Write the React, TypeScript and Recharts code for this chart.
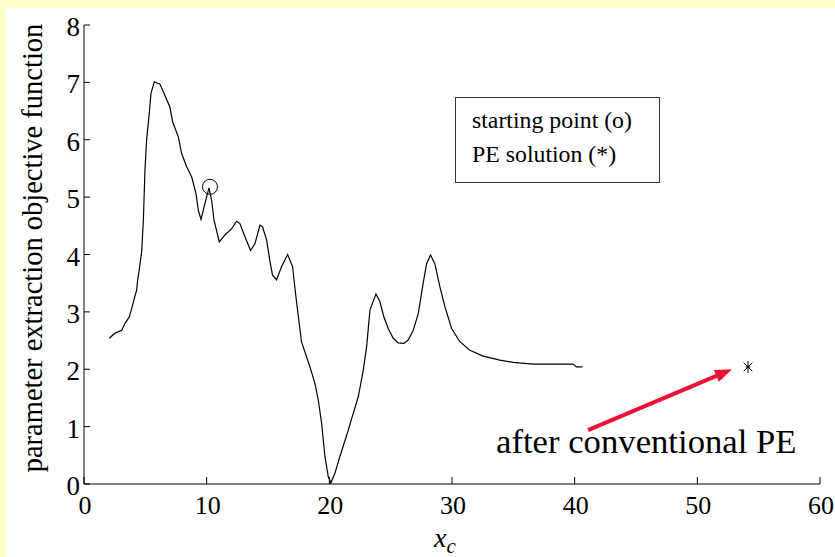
import React from 'react';
import { ComposedChart, Line, Scatter, XAxis, YAxis, ReferenceLine } from 'recharts';

// Objective function sampled along x_c
const curveX = [
  2.06, 2.53, 3.07, 3.34, 3.69, 3.89, 4.07, 4.29, 4.37, 4.5, 4.7, 4.84, 4.97, 5.1, 5.32, 5.46,
  5.73, 6.19, 6.52, 7.0, 7.23, 7.69, 7.96, 8.37, 8.78, 9.13, 9.32, 9.54, 9.86, 10.19, 10.4, 10.6,
  11.03, 11.49, 12.04, 12.44, 12.71, 13.12, 13.58, 13.94, 14.34, 14.56, 14.89, 15.16, 15.37, 15.7,
  16.11, 16.6, 17.0, 17.3, 17.73, 18.42, 18.83, 19.1, 19.37, 19.64, 19.91, 20.13, 20.46, 20.86,
  21.46, 21.95, 22.36, 22.77, 23.04, 23.31, 23.8, 24.12, 24.45, 24.8, 25.21, 25.62, 26.08, 26.43,
  26.84, 27.25, 27.65, 27.93, 28.25, 28.6, 29.01, 29.42, 29.97, 30.64, 31.46, 32.54, 33.9, 34.99,
  36.62, 39.88, 40.15, 40.64,
];
const curveY = [
  2.54, 2.63, 2.68, 2.8, 2.91, 3.06, 3.21, 3.38, 3.55, 3.73, 4.05, 4.6, 5.47, 5.99, 6.46, 6.81,
  7.01, 6.97, 6.81, 6.57, 6.31, 6.05, 5.76, 5.53, 5.35, 5.06, 4.77, 4.61, 4.89, 5.16, 4.95, 4.6,
  4.22, 4.34, 4.45, 4.58, 4.54, 4.31, 4.07, 4.19, 4.51, 4.48, 4.25, 3.88, 3.64, 3.56,
  3.79, 4.0, 3.79, 3.22, 2.48, 2.04, 1.75, 1.46, 1.06, 0.48, 0.13, 0.02, 0.19, 0.48,
  0.88, 1.23, 1.52, 1.99, 2.39, 3.03, 3.31, 3.18, 2.91, 2.71, 2.54, 2.46, 2.45, 2.51,
  2.68, 2.97, 3.5, 3.84, 3.99, 3.84, 3.44, 3.09, 2.71, 2.48, 2.33, 2.23, 2.16, 2.12,
  2.09, 2.09, 2.04, 2.04,
];

const startPoint = [{ x: 10.27, y: 5.18 }];
const peSolution = [{ x: 54.13, y: 2.04 }];
const arrowFrom = { x: 41.09, y: 0.94 };
const arrowTo = { x: 52.83, y: 2.0 };

const xTicks = [0, 10, 20, 30, 40, 50, 60];
const yTicks = [0, 1, 2, 3, 4, 5, 6, 7, 8];

const legendLines = ['starting point (o)', 'PE solution (*)'];
const annotationText = 'after conventional PE';
const yLabel = 'parameter extraction objective function';

const curveData = curveX.map((x, i) => ({ x, y: curveY[i] }));

const FONT = '"Liberation Serif", "Times New Roman", serif';
const W = 835;
const H = 557;

const YTick = (props: any) => {
  const { x, y, payload } = props;
  return (
    <g>
      <line x1={x} y1={y} x2={x + 6} y2={y} stroke="#000" strokeWidth={1} />
      <text x={x - 4} y={y + 11} textAnchor="end" fontSize={27} fontFamily={FONT} fill="#000">
        {payload.value}
      </text>
    </g>
  );
};

const XTick = (props: any) => {
  const { x, y, payload } = props;
  return (
    <g>
      <line x1={x} y1={y} x2={x} y2={y - 7} stroke="#000" strokeWidth={1} />
      <text x={x + 1} y={y + 30} textAnchor="middle" fontSize={26} fontFamily={FONT} fill="#000">
        {payload.value}
      </text>
    </g>
  );
};

const CircleMarker = (props: any) => {
  const { cx, cy } = props;
  return <circle cx={cx} cy={cy} r={7.5} fill="none" stroke="#000" strokeWidth={1} />;
};

const StarMarker = (props: any) => {
  const { cx, cy } = props;
  const s = 6;
  const d = s * 0.72;
  return (
    <g stroke="#000" strokeWidth={1}>
      <line x1={cx} y1={cy - s} x2={cx} y2={cy + s} />
      <line x1={cx - d} y1={cy - d} x2={cx + d} y2={cy + d} />
      <line x1={cx - d} y1={cy + d} x2={cx + d} y2={cy - d} />
      <line x1={cx - s * 0.4} y1={cy} x2={cx + s * 0.4} y2={cy} />
    </g>
  );
};

const ArrowShape = (props: any) => {
  const { x1, y1, x2, y2 } = props;
  const dx = x2 - x1;
  const dy = y2 - y1;
  const len = Math.sqrt(dx * dx + dy * dy);
  const ux = dx / len;
  const uy = dy / len;
  const head = 17;
  const half = 6.5;
  const bx = x2 - ux * head;
  const by = y2 - uy * head;
  const px = -uy;
  const py = ux;
  return (
    <g>
      <line x1={x1} y1={y1} x2={bx + ux * 2} y2={by + uy * 2} stroke="#EE1133" strokeWidth={4} />
      <polygon
        points={`${x2},${y2} ${bx + px * half},${by + py * half} ${bx - px * half},${by - py * half}`}
        fill="#EE1133"
      />
    </g>
  );
};

export default function App() {
  return (
    <div style={{ position: 'absolute', left: 0, top: 0, width: W, height: H, background: '#FFFFCC', overflow: 'hidden' }}>
      <div style={{ position: 'absolute', left: 6, top: 8, width: W - 6, height: H - 8, background: '#FFFFFF' }} />
      <div style={{ position: 'absolute', left: 0, top: 0 }}>
        <ComposedChart
          width={W}
          height={H}
          margin={{ top: 25, right: 15, bottom: 33, left: 24 }}
        >
          <XAxis
            type="number"
            dataKey="x"
            domain={[0, 60]}
            ticks={xTicks}
            height={40}
            tickSize={0}
            tickMargin={0}
            tickLine={false}
            axisLine={{ stroke: '#000', strokeWidth: 1 }}
            tick={<XTick />}
            interval={0}
          />
          <YAxis
            type="number"
            dataKey="y"
            domain={[0, 8]}
            ticks={yTicks}
            width={60}
            tickSize={0}
            tickMargin={0}
            tickLine={false}
            axisLine={{ stroke: '#000', strokeWidth: 1 }}
            tick={<YTick />}
            interval={0}
          />
          <Line
            data={curveData}
            dataKey="y"
            type="linear"
            stroke="#000"
            strokeWidth={1.2}
            dot={false}
            activeDot={false}
            isAnimationActive={false}
          />
          <Scatter data={startPoint} shape={<CircleMarker />} isAnimationActive={false} />
          <Scatter data={peSolution} shape={<StarMarker />} isAnimationActive={false} />
          <ReferenceLine segment={[arrowFrom, arrowTo]} shape={<ArrowShape />} />
        </ComposedChart>
      </div>
      <svg
        width={W}
        height={H}
        style={{ position: 'absolute', left: 0, top: 0, pointerEvents: 'none' }}
      >
        <text
          transform="rotate(-90)"
          x={-248}
          y={42}
          textAnchor="middle"
          fontSize={28.5}
          fontFamily={FONT}
          fill="#000"
        >
          {yLabel}
        </text>
        <text x={434} y={547} fontSize={28} fontFamily={FONT} fontStyle="italic" fill="#000">
          x
          <tspan fontSize={21} dy={6}>c</tspan>
        </text>
        <rect x={455.5} y={97.5} width={204} height={85} fill="#fff" stroke="#333" strokeWidth={1} />
        {legendLines.map((t, i) => (
          <text key={t} x={472} y={128 + i * 34} fontSize={23.8} fontFamily={FONT} fill="#000">
            {t}
          </text>
        ))}
        <text x={496} y={453} fontSize={34.7} fontFamily={FONT} fill="#000">
          {annotationText}
        </text>
      </svg>
    </div>
  );
}
